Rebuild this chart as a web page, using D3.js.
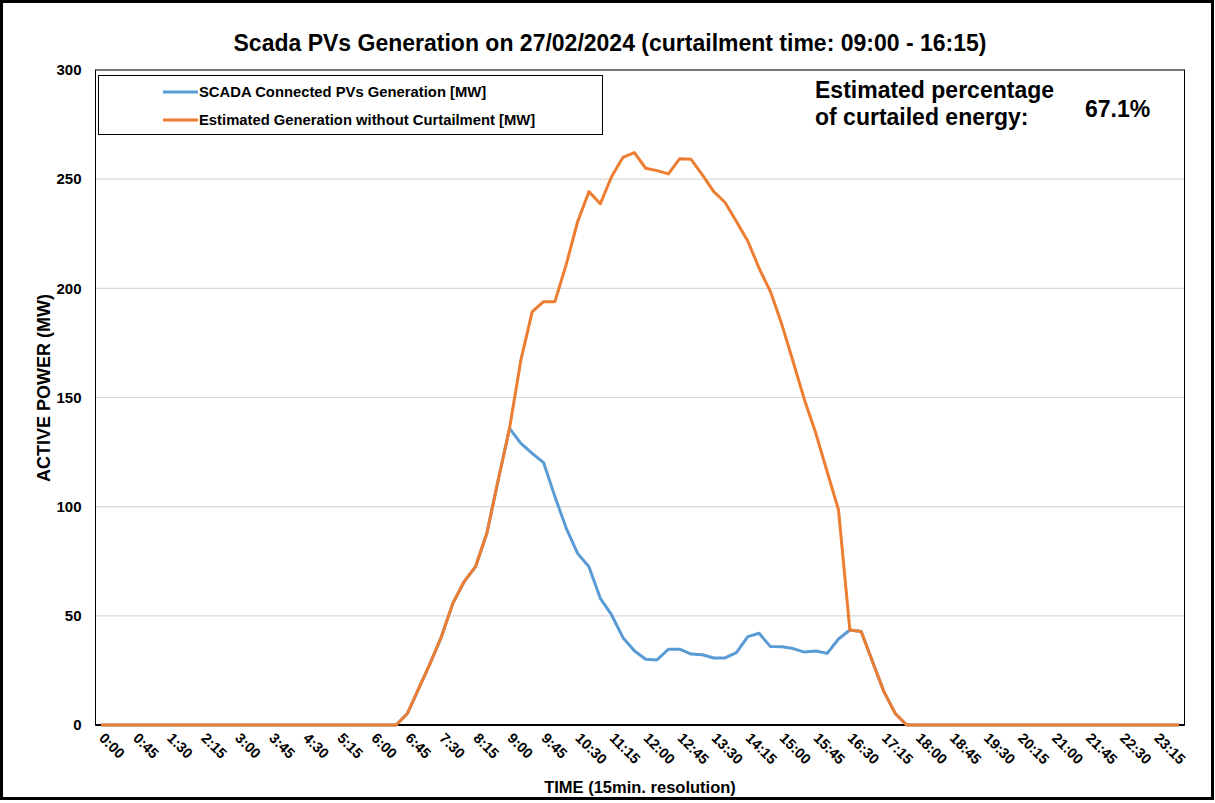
<!DOCTYPE html>
<html>
<head>
<meta charset="utf-8">
<script src="https://cdn.jsdelivr.net/npm/d3@7"></script>
<style>
  html, body { margin: 0; padding: 0; background: #fff; }
  svg { display: block; font-family: "Liberation Sans", Arial, sans-serif; }
</style>
</head>
<body>
<svg id="chart" width="1215" height="803"></svg>
<script>
// 15-minute slots of the day (96 slots, 0:00 .. 23:45)
const slots = d3.range(96);
const slotLabel = i => `${Math.floor(i / 4)}:${String((i % 4) * 15).padStart(2, "0")}`;

// Every third slot is labelled on the time axis
const tickSlots = d3.range(0, 96, 3);

// SCADA measured generation [MW]
const scadaMW = [
  0, 0, 0, 0, 0, 0, 0, 0, 0, 0, 0, 0, 0, 0, 0, 0,
  0, 0, 0, 0, 0, 0, 0, 0, 0, 0, 0, 5.3, 16.8, 28.2, 40.5, 55.7,
  65.7, 72.5, 87.8, 112.2, 135.9, 129, 124.4, 120.2, 104.6, 90.1, 78.6, 72.5, 58, 50.4, 40, 34,
  30.1, 29.8, 34.7, 34.7, 32.5, 32.2, 30.7, 30.7, 33.1, 40.5, 42, 35.9, 35.8, 35, 33.4, 33.9,
  32.8, 39.4, 43.5, 42.8, 29, 15.3, 5.3, 0, 0, 0, 0, 0, 0, 0, 0, 0,
  0, 0, 0, 0, 0, 0, 0, 0, 0, 0, 0, 0, 0, 0, 0, 0
];

// Estimated generation without curtailment [MW]
const estimatedMW = [
  0, 0, 0, 0, 0, 0, 0, 0, 0, 0, 0, 0, 0, 0, 0, 0,
  0, 0, 0, 0, 0, 0, 0, 0, 0, 0, 0, 5.3, 16.8, 28.2, 40.5, 55.7,
  65.7, 72.5, 87.8, 112.2, 135.9, 167.2, 189.3, 193.9, 193.9, 211, 230.5, 244.3, 238.7, 251.2, 260, 262.2,
  255, 253.9, 252.4, 259.4, 259.1, 252, 244.3, 239.3, 230.6, 221.7, 209.2, 198.5, 183.5, 166.4, 148.9, 133.6,
  116, 98.5, 43.5, 42.8, 29, 15.3, 5.3, 0, 0, 0, 0, 0, 0, 0, 0, 0,
  0, 0, 0, 0, 0, 0, 0, 0, 0, 0, 0, 0, 0, 0, 0, 0
];

const yTicks = [0, 50, 100, 150, 200, 250, 300];
const curtailedShare = "67.1%";

const series = [
  { name: "SCADA Connected PVs Generation [MW]", values: scadaMW, color: "#5B9BD5" },
  { name: "Estimated Generation without Curtailment [MW]", values: estimatedMW, color: "#ED7D31" }
];

const svg = d3.select("#chart");
const W = 1215, H = 803;
const plot = { left: 95.5, right: 1184.5, top: 70, bottom: 725 };

// outer frame
svg.append("rect")
  .attr("x", 1.5).attr("y", 1.5).attr("width", W - 4).attr("height", H - 6)
  .attr("fill", "#fff").attr("stroke", "#000").attr("stroke-width", 3);

const x = d3.scaleBand().domain(slots).range([plot.left, plot.right]);
const y = d3.scaleLinear().domain([0, 300]).range([plot.bottom, plot.top]);
const xc = i => x(i) + x.bandwidth() / 2;

// horizontal gridlines
svg.append("g")
  .selectAll("line")
  .data(yTicks.filter(v => v > 0))
  .join("line")
  .attr("x1", plot.left).attr("x2", plot.right)
  .attr("y1", d => y(d)).attr("y2", d => y(d))
  .attr("stroke", "#d9d9d9").attr("stroke-width", 1.2);

// plot area border
svg.append("rect")
  .attr("x", plot.left).attr("y", plot.top)
  .attr("width", plot.right - plot.left).attr("height", plot.bottom - plot.top)
  .attr("fill", "none").attr("stroke", "#000").attr("stroke-width", 1);

// y axis labels
const yAxis = d3.axisLeft(y).tickValues(yTicks).tickSize(0).tickPadding(14);
svg.append("g")
  .attr("transform", `translate(${plot.left},0)`)
  .call(yAxis)
  .call(g => g.select(".domain").remove())
  .call(g => g.selectAll("text")
    .attr("font-family", "Liberation Sans, Arial, sans-serif")
    .attr("font-size", 15).attr("font-weight", "bold").attr("fill", "#000"));

// x axis with rotated time labels
const xAxis = d3.axisBottom(x).tickValues(tickSlots).tickFormat(slotLabel).tickSize(0);
svg.append("g")
  .attr("transform", `translate(0,${plot.bottom})`)
  .call(xAxis)
  .call(g => g.select(".domain").remove())
  .call(g => g.selectAll("text")
    .attr("font-family", "Liberation Sans, Arial, sans-serif")
    .attr("font-size", 14.5).attr("font-weight", "bold").attr("fill", "#000")
    .attr("text-anchor", "start")
    .attr("y", 0).attr("dy", 0)
    .attr("transform", "translate(-3,14) rotate(45)"));

// baseline
svg.append("line")
  .attr("x1", plot.left).attr("x2", plot.right)
  .attr("y1", plot.bottom).attr("y2", plot.bottom)
  .attr("stroke", "#000").attr("stroke-width", 2);

// series lines
const line = d3.line().x((d, i) => xc(i)).y(d => y(d));
svg.append("g")
  .selectAll("path")
  .data(series)
  .join("path")
  .attr("d", d => line(d.values))
  .attr("fill", "none")
  .attr("stroke", d => d.color)
  .attr("stroke-width", 3)
  .attr("stroke-linejoin", "round");

// legend
const legend = svg.append("g");
legend.append("rect")
  .attr("x", 98.5).attr("y", 75.5).attr("width", 504).attr("height", 59)
  .attr("fill", "#fff").attr("stroke", "#000").attr("stroke-width", 1);
const li = legend.selectAll("g.item").data(series).join("g")
  .attr("class", "item")
  .attr("transform", (d, i) => `translate(0,${92 + i * 28})`);
li.append("line")
  .attr("x1", 163).attr("x2", 198).attr("y1", 0).attr("y2", 0)
  .attr("stroke", d => d.color).attr("stroke-width", 3);
li.append("text")
  .attr("x", 199).attr("y", 5)
  .attr("font-size", 14.8).attr("font-weight", "bold")
  .text(d => d.name);

// title
svg.append("text")
  .attr("x", 610).attr("y", 51)
  .attr("text-anchor", "middle")
  .attr("font-size", 23).attr("font-weight", "bold")
  .text("Scada PVs Generation on 27/02/2024 (curtailment time: 09:00 - 16:15)");

// curtailed energy note
const note = svg.append("g").attr("font-size", 23).attr("font-weight", "bold");
note.append("text").attr("x", 815).attr("y", 98).text("Estimated percentage");
note.append("text").attr("x", 815).attr("y", 125).text("of curtailed energy:");
note.append("text").attr("x", 1085).attr("y", 117).text(curtailedShare);

// axis titles
svg.append("text")
  .attr("x", 640).attr("y", 793)
  .attr("text-anchor", "middle")
  .attr("font-size", 16.5).attr("font-weight", "bold")
  .text("TIME (15min. resolution)");

svg.append("text")
  .attr("transform", "translate(50,388) rotate(-90)")
  .attr("text-anchor", "middle")
  .attr("font-size", 18).attr("font-weight", "bold")
  .text("ACTIVE POWER (MW)");
</script>
</body>
</html>
